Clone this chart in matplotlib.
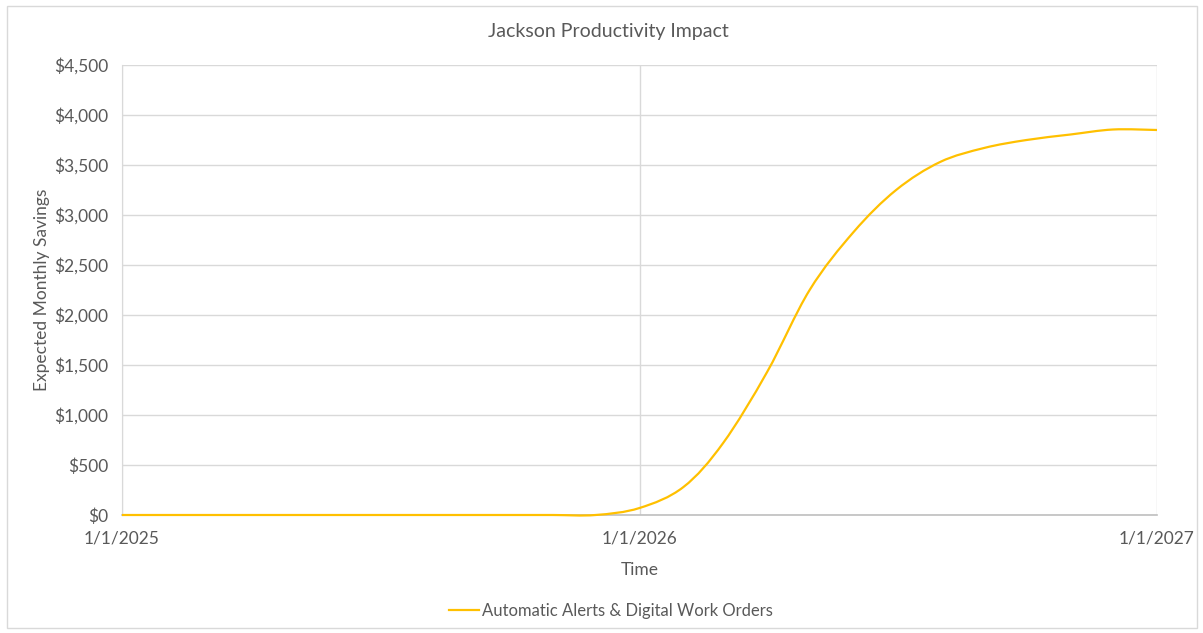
import datetime as dt
import matplotlib
matplotlib.use("Agg")
import matplotlib.pyplot as plt
import matplotlib.dates as mdates
from matplotlib.path import Path
from matplotlib.patches import PathPatch, Rectangle
from matplotlib.lines import Line2D
from matplotlib.ticker import FuncFormatter, MultipleLocator

# monthly points, 1/1/2025 .. 1/1/2027
months = [dt.date(2025 + (i // 12), i % 12 + 1, 1) for i in range(25)]
savings = [0, 0, 0, 0, 0, 0, 0, 0, 0, 0, 0, 0,
           70, 280, 720, 1430, 2250, 2830, 3250, 3530, 3670, 3750, 3805, 3855,
           3850]
series_name = "Automatic Alerts & Digital Work Orders"
tick_dates = [dt.date(2025, 1, 1), dt.date(2026, 1, 1), dt.date(2027, 1, 1)]

GRAY = "#595959"
GRID = "#D9D9D9"
GOLD = "#FFC000"

plt.rcParams["font.family"] = ["Lato", "DejaVu Sans"]

fig = plt.figure(figsize=(12.03, 6.33), dpi=100)
ax = fig.add_axes([122 / 1203, 1 - 515 / 633, (1157 - 122) / 1203, (515 - 65) / 633])

# Excel-style smoothed line (bezier through the data points)
xs = mdates.date2num(months)
ys = savings
n = len(xs)
verts = [(xs[0], ys[0])]
codes = [Path.MOVETO]
for i in range(n - 1):
    a = max(i - 1, 0)
    b = min(i + 2, n - 1)
    c1 = (xs[i] + (xs[i + 1] - xs[a]) / 6, ys[i] + (ys[i + 1] - ys[a]) / 6)
    c2 = (xs[i + 1] - (xs[b] - xs[i]) / 6, ys[i + 1] - (ys[b] - ys[i]) / 6)
    verts += [c1, c2, (xs[i + 1], ys[i + 1])]
    codes += [Path.CURVE4] * 3
ax.add_patch(PathPatch(Path(verts, codes), fill=False, edgecolor=GOLD,
                       linewidth=1.6, clip_on=False, zorder=3))

ax.set_xlim(mdates.date2num(tick_dates[0]), mdates.date2num(tick_dates[-1]))
ax.set_ylim(0, 4500)
ax.set_xticks(mdates.date2num(tick_dates))
ax.set_xticklabels([f"{d.month}/{d.day}/{d.year}" for d in tick_dates])
ax.yaxis.set_major_locator(MultipleLocator(500))
ax.yaxis.set_major_formatter(FuncFormatter(lambda v, p: f"${v:,.0f}"))

ax.grid(True, color=GRID, linewidth=1)
ax.set_axisbelow(True)
for s in ["top", "right"]:
    ax.spines[s].set_visible(False)
ax.spines["left"].set_color(GRID)
ax.spines["bottom"].set_color("#BFBFBF")
ax.spines["bottom"].set_linewidth(1.2)
ax.tick_params(length=0, colors=GRAY, labelsize=12.5)
ax.tick_params(axis="x", pad=11)
ax.tick_params(axis="y", pad=10)

ax.set_xlabel("Time", color=GRAY, fontsize=12.5, labelpad=11)
ax.set_ylabel("Expected Monthly Savings", color=GRAY, fontsize=12.5, labelpad=3)
fig.text(608 / 1203, 1 - 31 / 633, "Jackson Productivity Impact", color=GRAY,
         fontsize=14, ha="center", va="center")

fig.legend(handles=[Line2D([], [], color=GOLD, linewidth=1.6)], labels=[series_name],
           loc="center", bbox_to_anchor=(611 / 1203, 1 - 611 / 633), frameon=False,
           fontsize=12, labelcolor=GRAY, handlelength=1.8, handletextpad=0.15)

fig.add_artist(Rectangle((7 / 1203, 5 / 633), 1190 / 1203, 622 / 633,
                         transform=fig.transFigure, fill=False, edgecolor=GRID, linewidth=1))

fig.savefig("out.png", dpi=100)
